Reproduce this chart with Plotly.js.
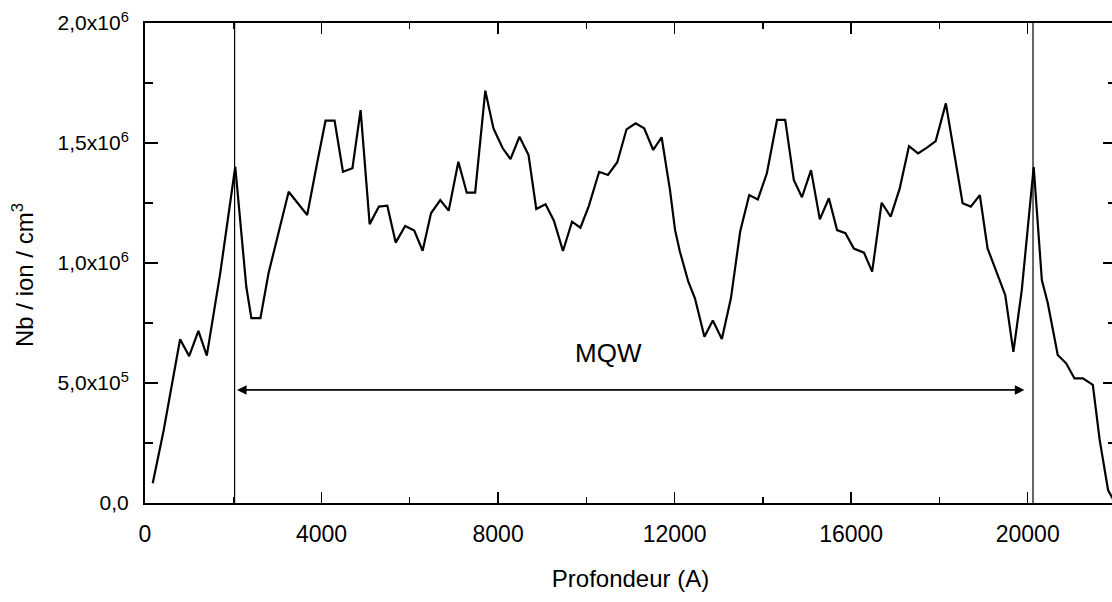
<!DOCTYPE html>
<html>
<head>
<meta charset="utf-8">
<script src="https://cdn.plot.ly/plotly-3.0.1.min.js"></script>
<style>
  html, body { margin: 0; padding: 0; overflow: hidden; background: #ffffff; }
  #chart { width: 1116px; height: 602px; }
</style>
</head>
<body>
<div id="chart"></div>
<script>
// Depth (Angstrom) and Nb per ion per cm3
const depth = [175, 420, 795, 1000, 1210, 1400, 1705, 2045, 2295, 2410, 2615, 2800, 3255, 3675, 3900,
  4090, 4295, 4485, 4700, 4885, 5090, 5300, 5490, 5680, 5895, 6100, 6290, 6480, 6690, 6880,
  7100, 7290, 7480, 7710, 7895, 8105, 8280, 8485, 8690, 8865, 9075, 9265, 9470, 9675, 9865,
  10055, 10290, 10490, 10700, 10910, 11115, 11310, 11515, 11705, 11895, 12010, 12120, 12310, 12460, 12675,
  12865, 13070, 13275, 13485, 13690, 13885, 14090, 14320, 14505, 14700, 14885, 15090, 15290, 15495, 15680,
  15870, 16060, 16290, 16475, 16690, 16895, 17100, 17310, 17515, 17725, 17915, 18145, 18525, 18710, 18915,
  19090, 19295, 19490, 19675, 19865, 20135, 20320, 20455, 20680, 20870, 21060, 21250, 21475, 21630, 21820, 21980];
const nbPerIon = [82000, 300000, 682000, 612000, 717000, 614000, 958000, 1401000, 901000, 770000, 770000, 958000, 1297000, 1200000, 1417000,
  1593000, 1593000, 1380000, 1395000, 1637000, 1162000, 1235000, 1239000, 1085000, 1154000, 1135000, 1051000, 1207000, 1262000, 1218000,
  1422000, 1293000, 1293000, 1718000, 1561000, 1478000, 1433000, 1526000, 1450000, 1225000, 1245000, 1176000, 1050000, 1172000, 1147000,
  1237000, 1380000, 1367000, 1420000, 1557000, 1582000, 1561000, 1471000, 1524000, 1304000, 1137000, 1047000, 922000, 853000, 693000,
  760000, 683000, 853000, 1131000, 1283000, 1265000, 1374000, 1596000, 1596000, 1346000, 1274000, 1387000, 1182000, 1270000, 1137000,
  1124000, 1060000, 1043000, 964000, 1251000, 1193000, 1311000, 1487000, 1457000, 1482000, 1508000, 1665000, 1249000, 1235000, 1283000,
  1061000, 957000, 867000, 630000, 887000, 1400000, 929000, 832000, 617000, 582000, 519000, 519000, 492000, 263000, 54000, 0];

const xTickVals = [0, 4000, 8000, 12000, 16000, 20000];
const xTickText = ['0', '4000', '8000', '12000', '16000', '20000'];
const yTickVals = [0, 500000, 1000000, 1500000, 2000000];
const yTickText = ['0,0', '5,0x10<sup>5</sup>', '1,0x10<sup>6</sup>', '1,5x10<sup>6</sup>', '2,0x10<sup>6</sup>'];

const layerLimits = [2030, 20120];     // vertical boundary lines
const arrowLevel = 471000;             // MQW arrow height
const arrowEnds = [2084, 19925];
const labelText = 'MQW';
const labelPos = [10500, 625000];
const yTitleText = 'Nb / ion / cm<sup>3</sup>';
const xTitleText = 'Profondeur (A)';

const FONT = '"Liberation Sans", Arial, Helvetica, sans-serif';

const trace = {
  x: depth, y: nbPerIon, type: 'scatter', mode: 'lines',
  line: { color: '#000000', width: 2.2 }, hoverinfo: 'skip', showlegend: false
};

const shapes = layerLimits.map(v => ({
  type: 'line', xref: 'x', yref: 'paper', x0: v, x1: v, y0: 0, y1: 1,
  line: { color: '#000000', width: 1.2 }
}));

const annotations = [
  { x: labelPos[0], y: labelPos[1], xref: 'x', yref: 'y', text: labelText, showarrow: false,
    font: { family: FONT, size: 26, color: '#000000' } },
  { x: -0.1256, y: 0.475, xref: 'paper', yref: 'paper', text: yTitleText, showarrow: false,
    textangle: -90, xanchor: 'center', yanchor: 'middle',
    font: { family: FONT, size: 24, color: '#000000' } },
  { x: arrowEnds[0], y: arrowLevel, ax: arrowEnds[1], ay: arrowLevel, xref: 'x', yref: 'y', axref: 'x', ayref: 'y',
    text: ' ', showarrow: true, arrowhead: 2, arrowsize: 1.6, arrowwidth: 1.2, arrowcolor: '#000000' },
  { x: arrowEnds[1], y: arrowLevel, ax: arrowEnds[0], ay: arrowLevel, xref: 'x', yref: 'y', axref: 'x', ayref: 'y',
    text: ' ', showarrow: true, arrowhead: 2, arrowsize: 1.6, arrowwidth: 1.2, arrowcolor: '#000000' }
];

const axisCommon = {
  showline: true, linecolor: '#000000', linewidth: 2, mirror: 'ticks',
  showgrid: false, zeroline: false, ticks: 'inside', tickcolor: '#000000', tickwidth: 1.5,
  tickfont: { family: FONT, size: 22, color: '#000000' }
};

const layout = {
  width: 1116, height: 602,
  margin: { l: 145, r: 0, t: 23, b: 99 },
  paper_bgcolor: '#ffffff', plot_bgcolor: '#ffffff',
  font: { family: FONT, color: '#000000' },
  showlegend: false,
  xaxis: Object.assign({}, axisCommon, {
    range: [0, 22000], tickmode: 'array', tickvals: xTickVals, ticktext: xTickText,
    ticklen: 11, ticklabelstandoff: 9,
    tickfont: { family: FONT, size: 23, color: '#000000' },
    minor: { dtick: 2000, tick0: 0, ticklen: 6, ticks: 'inside', tickcolor: '#000000', tickwidth: 1.2 },
    title: { text: xTitleText, font: { family: FONT, size: 24, color: '#000000' }, standoff: 25 }
  }),
  yaxis: Object.assign({}, axisCommon, {
    range: [0, 2000000], tickmode: 'array', tickvals: yTickVals, ticktext: yTickText,
    ticklen: 13, ticklabelstandoff: 10,
    tickfont: { family: FONT, size: 21, color: '#000000' },
    minor: { dtick: 250000, tick0: 0, ticklen: 8, ticks: 'inside', tickcolor: '#000000', tickwidth: 1.2 }
  }),
  shapes: shapes,
  annotations: annotations
};

Plotly.newPlot('chart', [trace], layout, { staticPlot: true, displayModeBar: false });
</script>
</body>
</html>
